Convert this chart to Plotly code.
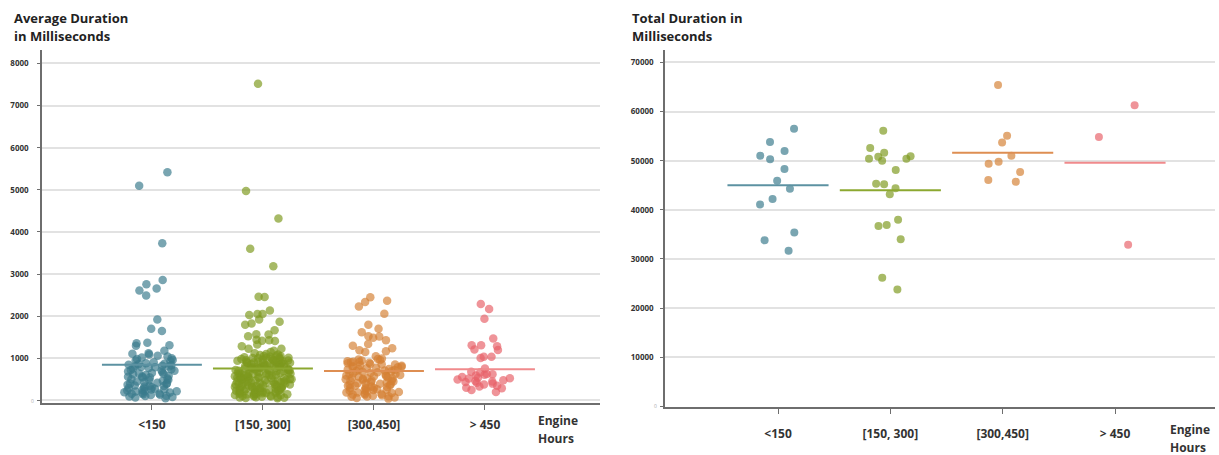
import plotly.graph_objects as go

categories = ["<150", "[150, 300]", "[300,450]", "> 450"]
colors = ["rgb(58,122,140)", "rgb(125,153,30)", "rgb(212,128,52)", "rgb(232,98,104)"]
line_colors = ["rgb(92,146,162)", "rgb(140,168,48)", "rgb(222,142,82)", "rgb(240,138,140)"]

# ---- Left panel: Average Duration (ms), one value per point ----
avg_lt150 = [5420, 5100, 3730, 2860, 2660, 2760, 2490, 2610, 1920, 1700, 1650, 1310, 1300,
             1370, 1360, 1180, 1120, 1110,
             1090, 1060, 1045, 1020, 1005, 985, 962, 948, 931, 905, 884, 871, 858, 846, 839,
             826, 812, 797, 788, 774, 758, 741, 722, 705, 688, 671, 652, 638, 621, 604, 589,
             571, 562, 543, 521, 503, 492, 468, 451, 433, 418, 402, 389, 372, 358, 341, 329,
             312, 298, 287, 276, 262, 251, 238, 226, 212, 198, 187, 176, 163, 148, 137, 128,
             115, 104, 92, 81, 68, 55, 548, 479, 412, 351, 268, 221, 157, 809, 713, 632]
avg_150_300 = [7520, 4970, 4320, 3600, 3185, 2465, 2455, 2136, 2050, 2050, 2030, 1920, 1830,
               1870, 1800, 1665, 1525, 1570, 1565, 1420, 1410, 1430, 1440, 1290, 1330, 1230,
               1230, 1180, 1150, 1120,
               1102, 1094, 1081, 1068, 1057, 1049, 1038, 1027, 1019, 1008, 1001, 992, 983, 974,
               962, 951, 943, 934, 922, 911, 902, 893, 881, 872, 864, 853, 842, 831, 822, 813,
               804, 792, 783, 771, 764, 752, 741, 733, 722, 714, 703, 692, 684, 671, 662, 651,
               643, 632, 621, 613, 602, 591, 583, 572, 561, 553, 542, 531, 522, 511, 503, 492,
               481, 472, 463, 452, 441, 432, 423, 412, 401, 393, 382, 371, 362, 353, 342, 331,
               322, 311, 302, 293, 282, 271, 262, 251, 243, 232, 221, 212, 203, 192, 183, 171,
               162, 153, 141, 132, 121, 112, 103, 91, 82, 71, 62, 51, 1013, 947, 906, 866, 826,
               777, 726, 676, 627, 577, 526, 476, 427, 377, 327, 277, 226, 176, 127, 78, 982, 921,
               861, 808, 758, 708, 657, 607, 558, 507, 457, 408, 358, 307, 257, 207, 158, 108,
               61, 1017, 956, 897, 837, 797, 746, 696, 646, 596, 546, 497, 446, 397, 346, 296,
               246, 197, 146, 96]
avg_300_450 = [2450, 2370, 2340, 2230, 2060, 1800, 1700, 1620, 1525, 1520, 1490, 1430, 1340,
               1300, 1240, 1190, 1150, 1170, 1050,
               998, 987, 972, 961, 948, 934, 921, 907, 893, 881, 868, 852, 841, 827, 813, 801,
               789, 776, 762, 748, 736, 722, 709, 697, 682, 671, 658, 644, 632, 618, 606, 593,
               579, 566, 552, 541, 528, 514, 502, 489, 476, 462, 451, 437, 424, 412, 398, 386,
               372, 359, 347, 333, 321, 307, 296, 282, 268, 256, 243, 231, 218, 204, 192, 178,
               166, 151, 139, 126, 112, 98, 86, 71, 57, 44, 915, 857, 803, 744, 691, 627, 574,
               521, 467, 408, 352, 301, 247, 189, 142, 93]
avg_gt450 = [2170, 2290, 1940, 1470, 1310, 1200, 1290, 1310, 1210, 1040, 1010, 1040, 760,
             670, 620, 590, 680, 630, 500, 450, 420, 380, 350, 300, 290, 250, 200, 480, 520,
             560, 540, 460, 400, 330, 610, 530, 440]
avg_mean_lines = [850, 760, 700, 740]

# ---- Right panel: Total Duration (ms) ----
tot_lt150 = [56500, 53800, 52000, 50300, 51000, 48300, 45900, 44300, 42200, 41100, 35400,
             33800, 31700]
tot_150_300 = [56100, 52600, 51600, 50400, 50800, 50900, 50400, 50000, 48100, 45300, 45200,
               44400, 43200, 38000, 36700, 36900, 34000, 26200, 23800]
tot_300_450 = [65400, 55100, 53700, 51000, 49400, 49800, 47700, 45700, 46100]
tot_gt450 = [61300, 54800, 32900]
tot_mean_lines = [45000, 44000, 51600, 49600]

avg_groups = [avg_lt150, avg_150_300, avg_300_450, avg_gt450]
tot_groups = [tot_lt150, tot_150_300, tot_300_450, tot_gt450]

FONT = "Open Sans"
fig = go.Figure()

def add_points(i, vals, xa, ya, msize, jitter):
    fig.add_trace(go.Box(
        x0=i, y=vals, xaxis=xa, yaxis=ya, width=0.9,
        boxpoints="all", jitter=jitter, pointpos=0,
        line=dict(width=0, color="rgba(0,0,0,0)"), fillcolor="rgba(0,0,0,0)",
        marker=dict(color=colors[i], size=msize, opacity=0.68, line=dict(width=0)),
        showlegend=False, hoveron="points"))

def add_lines(means, xa, ya):
    for i, m in enumerate(means):
        fig.add_trace(go.Scatter(
            x=[i - 0.45, i + 0.45], y=[m, m], mode="lines", xaxis=xa, yaxis=ya,
            line=dict(color=line_colors[i], width=2), showlegend=False, hoverinfo="skip"))

# left: the dense core and the sparse upper points are jittered separately
for i, vals in enumerate(avg_groups):
    core = [v for v in vals if v <= 1150]
    upper = [v for v in vals if v > 1150 and v < 3000]
    far = [v for v in vals if v >= 3000]
    add_points(i, core, "x", "y", 8.5, 0.58)
    add_points(i, upper, "x", "y", 8.5, 0.5)
    if far:
        add_points(i, far, "x", "y", 8.5, 0.4)
add_lines(avg_mean_lines, "x", "y")

for i, vals in enumerate(tot_groups):
    add_points(i, vals, "x2", "y2", 8, 0.5)
add_lines(tot_mean_lines, "x2", "y2")

xcommon = dict(type="linear", tickmode="array", tickvals=[0, 1, 2, 3], ticktext=categories,
               showline=True, linecolor="#6e6e6e", linewidth=1.5, ticks="outside", ticklen=5,
               tickcolor="#6e6e6e", showgrid=False, zeroline=False,
               tickfont=dict(family=FONT, size=12, color="#333333", weight="bold"))
ycommon = dict(showline=True, linecolor="#6e6e6e", linewidth=1.5, ticks="outside", ticklen=3,
               tickcolor="#6e6e6e", showgrid=True, gridcolor="#e2e2e2", gridwidth=1.5,
               zeroline=False,
               tickfont=dict(family=FONT, size=8, color="#333333", weight="bold"))

fig.update_layout(
    width=1219, height=455, margin=dict(l=0, r=0, t=0, b=0),
    paper_bgcolor="white", plot_bgcolor="white",
    xaxis=dict(xcommon, domain=[42/1219, 600/1219], range=[-0.99, 4.036], anchor="y",
               ticklabelstandoff=4),
    yaxis=dict(ycommon, domain=[48/455, 405/455], range=[-70, 8330], anchor="x",
               tickvals=[0, 1000, 2000, 3000, 4000, 5000, 6000, 7000, 8000],
               ticktext=[" ", "1000", "2000", "3000", "4000", "5000", "6000", "7000", "8000"],
               ticklabelstandoff=7),
    xaxis2=dict(xcommon, domain=[665/1219, 1215/1219], range=[-1.006, 3.89], anchor="y2",
                ticklabelstandoff=9),
    yaxis2=dict(ycommon, domain=[44/455, 405/455], range=[-200, 72620], anchor="x2",
                tickvals=[0, 10000, 20000, 30000, 40000, 50000, 60000, 70000],
                ticktext=[" ", "10000", "20000", "30000", "40000", "50000", "60000", "70000"],
                ticklabelstandoff=5),
)

tfont = dict(family=FONT, size=13, color="#222222", weight="bold")
afont = dict(family=FONT, size=12, color="#333333", weight="bold")
annots = [
    dict(text="Average Duration", x=12/1219, y=1-18/455, xanchor="left", yanchor="middle", font=tfont),
    dict(text="in Milliseconds", x=12/1219, y=1-36/455, xanchor="left", yanchor="middle", font=tfont),
    dict(text="Total Duration in", x=630/1219, y=1-18/455, xanchor="left", yanchor="middle", font=tfont),
    dict(text="Milliseconds", x=630/1219, y=1-36/455, xanchor="left", yanchor="middle", font=tfont),
    dict(text="Engine", x=536/1219, y=1-424/455, xanchor="left", yanchor="middle", font=afont),
    dict(text="Hours", x=536/1219, y=1-442/455, xanchor="left", yanchor="middle", font=afont),
    dict(text="Engine", x=1168/1219, y=1-433/455, xanchor="left", yanchor="middle", font=afont),
    dict(text="Hours", x=1168/1219, y=1-451/455, xanchor="left", yanchor="middle", font=afont),
    dict(text="0", x=36/1219, y=1-405/455, xanchor="right", yanchor="middle",
         font=dict(family=FONT, size=5, color="#aaaaaa")),
    dict(text="0", x=659/1219, y=1-410/455, xanchor="right", yanchor="middle",
         font=dict(family=FONT, size=5, color="#aaaaaa")),
]
for a in annots:
    a.update(xref="paper", yref="paper", showarrow=False)
fig.update_layout(annotations=annots)

fig.write_html("out.html")
